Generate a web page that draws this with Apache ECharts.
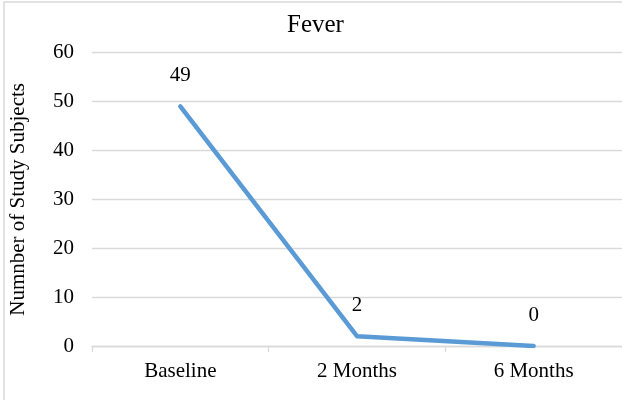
<!DOCTYPE html>
<html>
<head>
<meta charset="utf-8">
<script src="https://cdn.jsdelivr.net/npm/echarts@6/dist/echarts.min.js"></script>
<style>
html,body{margin:0;padding:0;background:#fff;}
#chart{width:622px;height:400px;}
</style>
</head>
<body>
<div id="chart"></div>
<script>
var categories = ["Baseline", "2 Months", "6 Months"];
var feverValues = [49, 2, 0];
var yTicks = [0, 10, 20, 30, 40, 50, 60];
var titleText = "Fever";
var yAxisTitle = "Numnber of Study Subjects";

var FONT = '"Liberation Serif", "Times New Roman", serif';
var chart = echarts.init(document.getElementById('chart'), null, {renderer: 'canvas'});
chart.setOption({
  animation: false,
  backgroundColor: '#ffffff',
  title: {
    text: titleText,
    left: 287,
    top: 13,
    padding: 0,
    textStyle: {fontFamily: FONT, fontSize: 25, fontWeight: 'normal', color: '#000'}
  },
  graphic: [{
    type: 'rect',
    shape: {x: 4, y: 2, width: 700, height: 500},
    style: {fill: 'none', stroke: '#d9d9d9', lineWidth: 1.5},
    silent: true,
    z: -1
  }],
  grid: {left: 86, top: 52.7, width: 542, height: 293.3},
  xAxis: {
    type: 'category',
    data: categories,
    boundaryGap: true,
    axisLine: {show: true, lineStyle: {color: '#d9d9d9', width: 1.3}},
    axisTick: {show: true, length: 6, alignWithLabel: false, lineStyle: {color: '#d9d9d9', width: 1.3}},
    axisLabel: {margin: 15, fontFamily: FONT, fontSize: 21, color: '#000'},
    splitLine: {show: false}
  },
  yAxis: {
    type: 'value',
    min: yTicks[0],
    max: yTicks[yTicks.length - 1],
    interval: 10,
    name: yAxisTitle,
    nameLocation: 'middle',
    nameRotate: 90,
    nameGap: 63,
    nameTextStyle: {fontFamily: FONT, fontSize: 21, color: '#000'},
    axisLine: {show: false},
    axisTick: {show: false},
    axisLabel: {margin: 18, fontFamily: FONT, fontSize: 21, color: '#000'},
    splitLine: {show: true, lineStyle: {color: '#d9d9d9', width: 1.3}}
  },
  series: [{
    type: 'line',
    data: feverValues,
    showSymbol: true,
    symbol: 'circle',
    symbolSize: 1,
    lineStyle: {color: '#5b9bd5', width: 4.5, cap: 'round', join: 'round'},
    itemStyle: {color: 'rgba(91,155,213,0)', borderWidth: 0},
    label: {
      show: true,
      position: 'top',
      distance: 20,
      fontFamily: FONT,
      fontSize: 21,
      color: '#000'
    }
  }]
});
</script>
</body>
</html>
